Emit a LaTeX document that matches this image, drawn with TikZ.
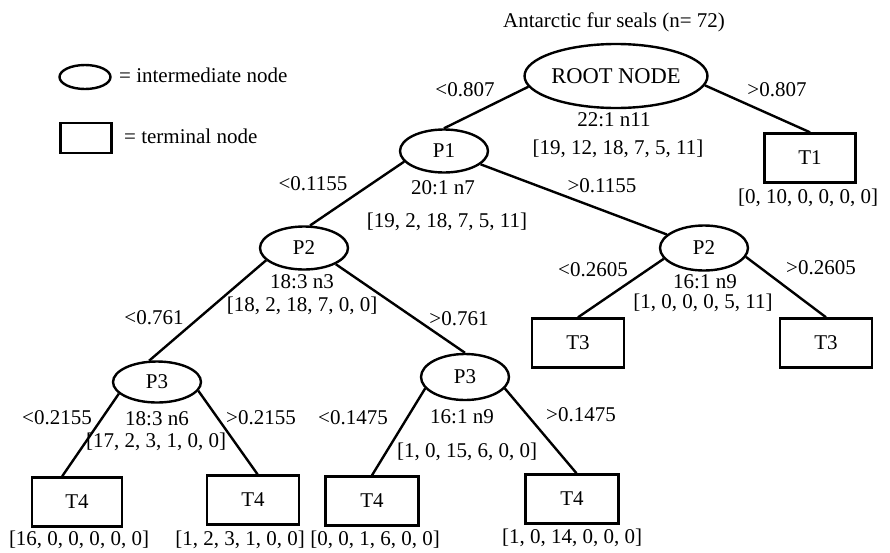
\documentclass[tikz,border=0pt]{standalone}
\usepackage{fontspec}
\setmainfont{Liberation Serif}
\usetikzlibrary{shapes.geometric}
\begin{document}
\begin{tikzpicture}[x=1pt,y=-1pt,
  every node/.style={font=\fontsize{21}{23}\selectfont, inner sep=0pt},
  inode/.style={draw, ellipse, line width=2.4pt, minimum width=88pt, minimum height=43pt},
  tnode/.style={draw, rectangle, line width=2.4pt, minimum width=92pt, minimum height=49pt},
  branch/.style={line width=2.4pt},
  info/.style={anchor=center}]
\useasboundingbox (0,0) rectangle (890,552);

% legend
\node[draw, ellipse, line width=2.4pt, minimum width=51pt, minimum height=24pt] (legE) at (85,77) {};
\node[anchor=west] (legEt) at (119,75) {= intermediate node};
\node[draw, rectangle, line width=2.4pt, minimum width=51pt, minimum height=30pt] (legR) at (86,138) {};
\node[anchor=west] (legRt) at (124,136) {= terminal node};

% title
\node (title) at (614,22) {Antarctic fur seals (n= 72)};

% root
\node[inode, minimum width=172pt, minimum height=64pt, font=\fontsize{22.5}{24}\selectfont] (root) at (616,76) {ROOT NODE};
\node[info] (rootA) at (614,120) {22:1 n11};
\node[info] (rootB) at (618,149) {[19, 12, 18, 7, 5, 11]};

% level 1
\node[inode] (p1) at (444,151) {P1};
\node[info] (p1A) at (443,188) {20:1 n7};
\node[info] (p1B) at (447,222) {[19, 2, 18, 7, 5, 11]};
\node[tnode, minimum width=91pt] (t1) at (810,158) {T1};
\node[info] (t1B) at (808,198) {[0, 10, 0, 0, 0, 0]};

% level 2
\node[inode] (p2l) at (304,248) {P2};
\node[info] (p2lA) at (302,282) {18:3 n3};
\node[info] (p2lB) at (302,306) {[18, 2, 18, 7, 0, 0]};
\node[inode, minimum height=45pt] (p2r) at (704,248) {P2};
\node[info] (p2rA) at (705,282) {16:1 n9};
\node[info] (p2rB) at (703,303) {[1, 0, 0, 0, 5, 11]};

% level 3
\node[inode, minimum height=41pt] (p3l) at (157,382) {P3};
\node[info] (p3lA) at (157,419) {18:3 n6};
\node[info] (p3lB) at (156,442) {[17, 2, 3, 1, 0, 0]};
\node[inode, minimum height=46pt] (p3r) at (465,377) {P3};
\node[info] (p3rA) at (462,417) {16:1 n9};
\node[info] (p3rB) at (467,452) {[1, 0, 15, 6, 0, 0]};
\node[tnode] (t3l) at (578,343) {T3};
\node[tnode] (t3r) at (826,343) {T3};

% leaves
\node[tnode, minimum width=90pt] (t4a) at (77,502) {T4};
\node[info] (t4aB) at (79,540) {[16, 0, 0, 0, 0, 0]};
\node[tnode] (t4b) at (253,500) {T4};
\node[info] (t4bB) at (240,540) {[1, 2, 3, 1, 0, 0]};
\node[tnode, minimum width=93pt] (t4c) at (372,501) {T4};
\node[info] (t4cB) at (375,540) {[0, 0, 1, 6, 0, 0]};
\node[tnode, minimum width=93pt] (t4d) at (572,499) {T4};
\node[info] (t4dB) at (572,538) {[1, 0, 14, 0, 0, 0]};

% branches
\draw[branch] (root.187) -- (p1.north);
\draw[branch] (root.354) -- (t1.north);
\draw[branch] (p1.195) -- (p2l.75);
\draw[branch] (p1.340) -- (p2r.160);
\draw[branch] (p2l.198) -- (p3l.110);
\draw[branch] (p2l.333) -- (p3r.north);
\draw[branch] (p2r.195) -- (t3l.north);
\draw[branch] (p2r.348) -- (t3r.north);
\draw[branch] (p3l.197) -- (t4a.120);
\draw[branch] (p3l.348) -- (t4b.80);
\draw[branch] (p3r.196) -- (t4c.north);
\draw[branch] (p3r.344) -- (t4d.80);

% split thresholds
\node (s1) at (465,90) {<0.807};
\node (s2) at (777,90) {>0.807};
\node (s3) at (313,184) {<0.1155};
\node (s4) at (602,186) {>0.1155};
\node (s5) at (154,318) {<0.761};
\node (s6) at (459,319) {>0.761};
\node (s7) at (593,270) {<0.2605};
\node (s8) at (821,268) {>0.2605};
\node (s9) at (57,418) {<0.2155};
\node (s10) at (261,418) {>0.2155};
\node (s11) at (353,418) {<0.1475};
\node (s12) at (581,415) {>0.1475};
\end{tikzpicture}
\end{document}
